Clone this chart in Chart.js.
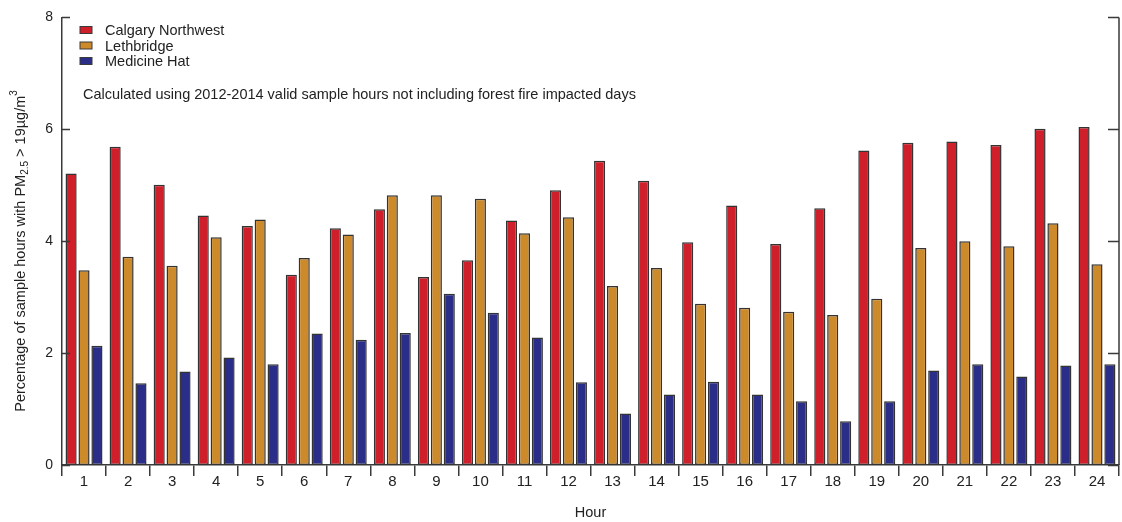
<!DOCTYPE html>
<html lang="en">
<head>
    <meta charset="UTF-8">
    <title>PM2.5 sample hours by hour</title>
    <script src="https://cdn.jsdelivr.net/npm/chart.js"></script>
    <style>
        html, body {
            margin: 0;
            padding: 0;
            background: #fff;
        }
        .chart-box {
            width: 1122px;
            height: 522px;
        }
    </style>
</head>
<body>
    <div class="chart-box">
        <canvas id="pmChart"></canvas>
    </div>
    <script>
        const hours = ['1', '2', '3', '4', '5', '6', '7', '8', '9', '10', '11', '12',
                       '13', '14', '15', '16', '17', '18', '19', '20', '21', '22', '23', '24'];

        const calgaryNW = [5.21, 5.69, 5.01, 4.46, 4.27, 3.40, 4.23, 4.57, 3.36, 3.66, 4.37, 4.91,
                           5.44, 5.08, 3.98, 4.64, 3.95, 4.59, 5.62, 5.76, 5.78, 5.72, 6.01, 6.04];
        const lethbridge = [3.48, 3.72, 3.56, 4.07, 4.39, 3.70, 4.12, 4.82, 4.82, 4.76, 4.14, 4.43,
                            3.20, 3.52, 2.88, 2.81, 2.74, 2.68, 2.97, 3.88, 4.00, 3.91, 4.32, 3.59];
        const medicineHat = [2.13, 1.46, 1.67, 1.92, 1.80, 2.35, 2.24, 2.36, 3.06, 2.72, 2.28, 1.48,
                             0.92, 1.26, 1.49, 1.26, 1.14, 0.78, 1.14, 1.69, 1.80, 1.58, 1.78, 1.80];

        const yTicks = [0, 2, 4, 6, 8];
        const note = 'Calculated using 2012-2014 valid sample hours not including forest fire impacted days';

        const axisColor = '#3a3a3a';
        const textColor = '#222';
        const fontFamily = '"Liberation Sans", Arial, Helvetica, sans-serif';

        // ticks pointing inward, right axis, legend, note and y title with sub/superscript
        const decorations = {
            id: 'decorations',
            afterDraw(chart) {
                const ctx = chart.ctx;
                const area = chart.chartArea;
                const y = chart.scales.y;
                ctx.save();

                ctx.strokeStyle = axisColor;
                ctx.lineWidth = 1.5;
                ctx.beginPath();
                ctx.moveTo(area.right, area.top);
                ctx.lineTo(area.right, area.bottom);
                yTicks.forEach(v => {
                    const py = Math.round(y.getPixelForValue(v)) + 0.5;
                    ctx.moveTo(area.left, py);
                    ctx.lineTo(area.left + 8, py);
                    ctx.moveTo(area.right, py);
                    ctx.lineTo(area.right - 11, py);
                });
                ctx.stroke();

                // legend
                ctx.font = '14.5px ' + fontFamily;
                ctx.textBaseline = 'middle';
                ctx.textAlign = 'left';
                chart.data.datasets.forEach((ds, i) => {
                    const cy = 30 + i * 15.5;
                    ctx.fillStyle = ds.backgroundColor;
                    ctx.fillRect(80, cy - 3.5, 12, 7);
                    ctx.strokeStyle = axisColor;
                    ctx.lineWidth = 1;
                    ctx.strokeRect(80, cy - 3.5, 12, 7);
                    ctx.fillStyle = textColor;
                    ctx.fillText(ds.label, 105, cy + 1);
                });

                ctx.fillText(note, 83, 95);

                // y axis title
                ctx.translate(21, 251);
                ctx.rotate(-Math.PI / 2);
                const parts = [
                    { t: 'Percentage of sample hours with PM', size: 14.5, dy: 0 },
                    { t: '2.5', size: 10, dy: 4 },
                    { t: ' > 19\u00b5g/m', size: 14.5, dy: 0 },
                    { t: '3', size: 10, dy: -7 }
                ];
                let total = 0;
                parts.forEach(p => {
                    ctx.font = p.size + 'px ' + fontFamily;
                    total += ctx.measureText(p.t).width;
                });
                let x = -total / 2;
                parts.forEach(p => {
                    ctx.font = p.size + 'px ' + fontFamily;
                    ctx.fillText(p.t, x, p.dy);
                    x += ctx.measureText(p.t).width;
                });
                ctx.restore();
            }
        };

        const barStyle = {
            borderColor: '#333',
            borderWidth: 1.5,
            borderSkipped: false,
            categoryPercentage: 0.88,
            barPercentage: 0.86
        };

        new Chart(document.getElementById('pmChart'), {
            type: 'bar',
            data: {
                labels: hours,
                datasets: [
                    Object.assign({ label: 'Calgary Northwest', data: calgaryNW, backgroundColor: '#cf1f2a' }, barStyle),
                    Object.assign({ label: 'Lethbridge', data: lethbridge, backgroundColor: '#cd8a2b' }, barStyle),
                    Object.assign({ label: 'Medicine Hat', data: medicineHat, backgroundColor: '#2a2e88' }, barStyle)
                ]
            },
            options: {
                responsive: true,
                maintainAspectRatio: false,
                animation: false,
                layout: {
                    padding: { top: 15, right: 3, left: 0, bottom: 0 }
                },
                plugins: {
                    legend: { display: false },
                    tooltip: { enabled: false }
                },
                scales: {
                    x: {
                        grid: {
                            display: true,
                            drawOnChartArea: false,
                            drawTicks: true,
                            tickLength: 11,
                            color: axisColor,
                            lineWidth: 1.5
                        },
                        border: { display: true, color: axisColor, width: 1.5 },
                        ticks: {
                            color: textColor,
                            font: { family: fontFamily, size: 15 },
                            padding: -3,
                            maxRotation: 0
                        },
                        title: {
                            display: true,
                            text: 'Hour',
                            color: textColor,
                            font: { family: fontFamily, size: 14.5 },
                            padding: { top: 8, bottom: 0 }
                        },
                        afterFit(scale) { scale.height = 57; }
                    },
                    y: {
                        min: 0,
                        max: 8,
                        grid: { display: false, drawTicks: false },
                        border: { display: true, color: axisColor, width: 1.5 },
                        ticks: {
                            stepSize: 2,
                            color: textColor,
                            font: { family: fontFamily, size: 14 },
                            padding: 9
                        },
                        afterFit(scale) { scale.width = 62; }
                    }
                }
            },
            plugins: [decorations]
        });
    </script>
</body>
</html>
